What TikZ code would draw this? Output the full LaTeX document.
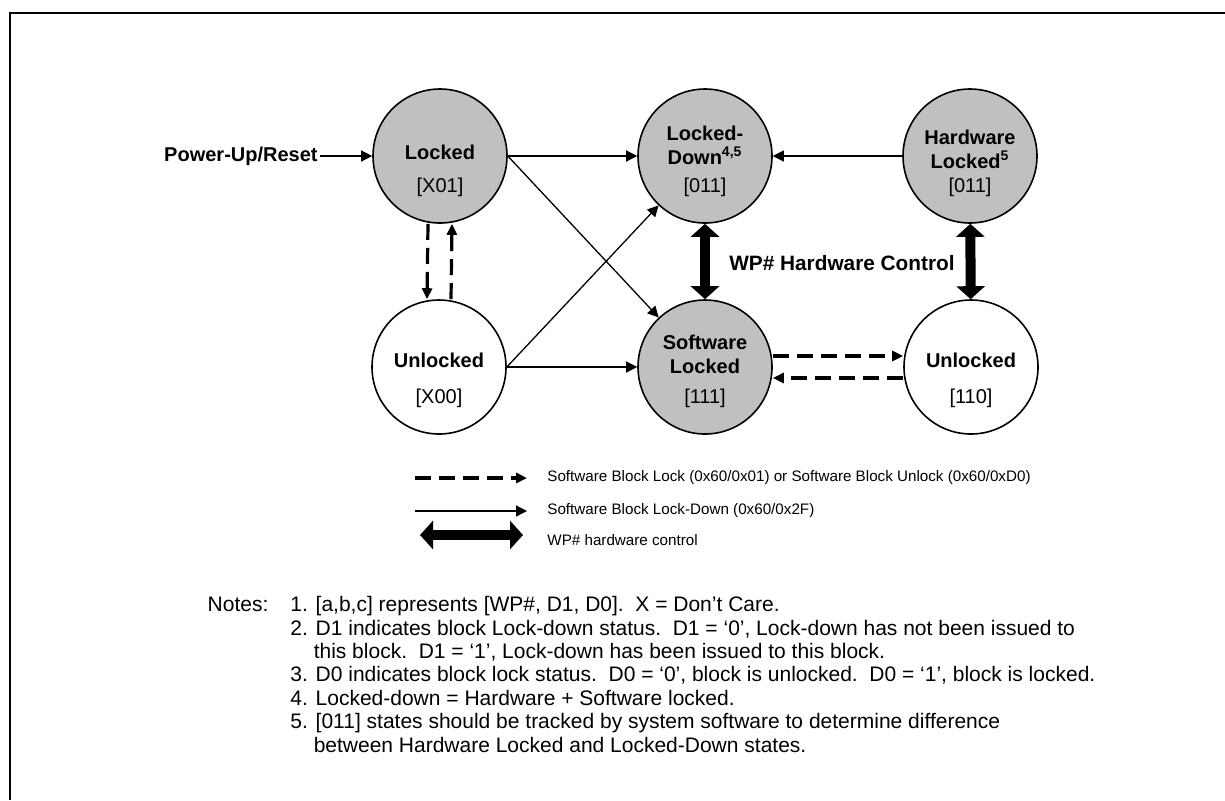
\documentclass[tikz,border=0pt]{standalone}
\usepackage{fontspec}
\setmainfont{Liberation Sans}
\usetikzlibrary{arrows.meta}
\definecolor{lockgray}{HTML}{C0C0C0}
\tikzset{
  blk/.style={circle, draw, line width=0.8pt, minimum size=67pt, inner sep=0pt},
  lockfill/.style={fill=lockgray},
  stname/.style={font=\fontsize{10}{12}\selectfont\bfseries, align=center, inner sep=0pt},
  bits/.style={font=\fontsize{10}{12}\selectfont, inner sep=0pt},
  cmd/.style={line width=0.65pt, -{Triangle[length=5.5pt,width=5.5pt]}},
  sblock/.style={line width=1.6pt, dash pattern=on 8pt off 4pt, -{Triangle[length=5.5pt,width=5pt]}},
  wpctl/.style={line width=5pt, {Triangle[length=6.5pt,width=14pt]}-{Triangle[length=6.5pt,width=14pt]}},
  legtext/.style={font=\fontsize{7.6}{9}\selectfont, anchor=west, inner sep=0pt},
}
\begin{document}
\begin{tikzpicture}[x=0.5pt,y=-0.5pt]
        % cadre
        \useasboundingbox (0,0) rectangle (1225,800);
        \draw[line width=1pt] (1225,13) -- (10,13) -- (10,800);

        % etats
        \node[blk, lockfill] (lk) at (440,156) {};
        \node[stname] (lkn) at ([yshift=2pt]lk.center) {Locked};
        \node[bits] (lkb) at ([yshift=-15.5pt]lk.center) {[X01]};

        \node[blk, lockfill] (ld) at (705,156) {};
        \node[stname] (ldn) at ([yshift=5.5pt]ld.center) {Locked-\\Down\textsuperscript{4,5}};
        \node[bits] (ldb) at ([yshift=-15.5pt]ld.center) {[011]};

        \node[blk, lockfill] (hw) at (970,156) {};
        \node[stname] (hwn) at ([yshift=3.5pt]hw.center) {Hardware\\Locked\textsuperscript{5}};
        \node[bits] (hwb) at ([yshift=-15.5pt]hw.center) {[011]};

        \node[blk] (ul) at (439,367) {};
        \node[stname] (uln) at ([yshift=3.5pt]ul.center) {Unlocked};
        \node[bits] (ulb) at ([yshift=-15.5pt]ul.center) {[X00]};

        \node[blk, lockfill] (sw) at (705,367) {};
        \node[stname] (swn) at ([yshift=6.25pt]sw.center) {Software\\Locked};
        \node[bits] (swb) at ([yshift=-15.5pt]sw.center) {[111]};

        \node[blk] (ur) at (971,367) {};
        \node[stname] (urn) at ([yshift=3.5pt]ur.center) {Unlocked};
        \node[bits] (urb) at ([yshift=-15.5pt]ur.center) {[110]};

        \node[stname, anchor=east, inner sep=1pt] (pwr) at (320,156) {Power-Up/Reset};
        \node[stname, font=\fontsize{10.4}{12}\selectfont\bfseries] (wpl) at (842,263) {WP\# Hardware Control};

        % transitions
        \draw[cmd] (pwr) -- (lk);
        \draw[cmd] (lk) -- (ld);
        \draw[cmd] (hw) -- (ld);
        \draw[cmd] (lk.east) -- (sw);
        \draw[cmd] (ul.east) -- (ld);
        \draw[cmd] (ul) -- (sw);

        \draw[sblock] ([xshift=-6pt]lk.south) -- ([xshift=-6pt]ul.north);
        \draw[sblock] ([xshift=6pt]ul.north) -- ([xshift=6pt]lk.south);
        \draw[sblock] ([yshift=5.5pt]sw.east) -- ([yshift=5.5pt]ur.west);
        \draw[sblock] ([yshift=-5.5pt]ur.west) -- ([yshift=-5.5pt]sw.east);

        \draw[wpctl] (ld) -- (sw);
        \draw[wpctl] (hw) -- (ur);

        % legende
        \coordinate (lg1a) at (415,478);
        \coordinate (lg1b) at (527,478);
        \draw[sblock] (lg1a) -- (lg1b);
        \node[legtext] (lg1) at (547,478) {Software Block Lock (0x60/0x01) or Software Block Unlock (0x60/0xD0)};

        \coordinate (lg2a) at (415,511);
        \coordinate (lg2b) at (527,511);
        \draw[cmd] (lg2a) -- (lg2b);
        \node[legtext] (lg2) at (547,511) {Software Block Lock-Down (0x60/0x2F)};

        \coordinate (lg3a) at (420,535);
        \coordinate (lg3b) at (523,535);
        \draw[wpctl] (lg3a) -- (lg3b);
        \node[legtext] (lg3) at (547,540) {WP\# hardware control};

        % notes
        \node[anchor=north west, align=left, inner sep=0pt, font=\fontsize{10.5}{11.7}\selectfont] (nts) at (290,596) {%
          \llap{Notes:\hspace{11pt}}1. [a,b,c] represents [WP\#, D1, D0].\ \ X = Don’t Care.\\
          2. D1 indicates block Lock-down status.\ \ D1 = ‘0’, Lock-down has not been issued to\\
          \hphantom{2.\ }this block.\ \ D1 = ‘1’, Lock-down has been issued to this block.\\
          3. D0 indicates block lock status.\ \ D0 = ‘0’, block is unlocked.\ \ D0 = ‘1’, block is locked.\\
          4. Locked-down = Hardware + Software locked.\\
          5. [011] states should be tracked by system software to determine difference\\
          \hphantom{5.\ }between Hardware Locked and Locked-Down states.};
    \end{tikzpicture}
\end{document}
